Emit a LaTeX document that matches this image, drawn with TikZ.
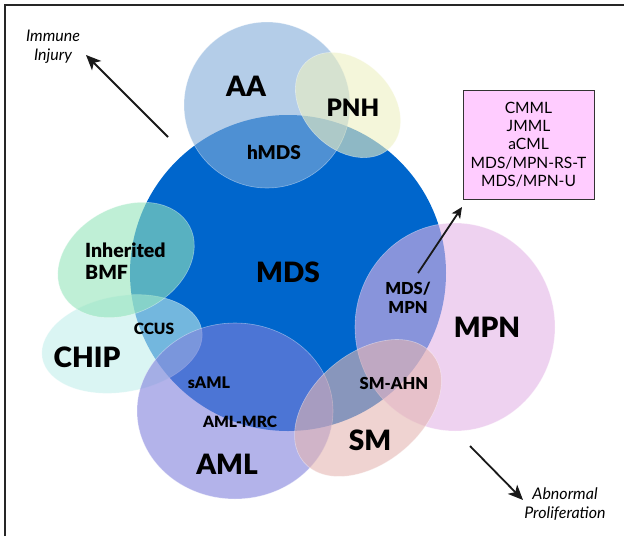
\documentclass[tikz,border=0pt]{standalone}
\usepackage{fontspec}
\setmainfont{Lato}[BoldFont={Lato Black}]
\usepackage{xcolor}
\usetikzlibrary{arrows.meta}

\definecolor{mdsblue}{HTML}{0066CC}
\definecolor{aablue}{HTML}{82ACD9}
\definecolor{pnhyellow}{HTML}{EDF0C1}
\definecolor{bmfgreen}{HTML}{94E4BB}
\definecolor{chipcyan}{HTML}{C1EEEB}
\definecolor{amlpurple}{HTML}{8080DC}
\definecolor{mpnpink}{HTML}{E3B4E6}
\definecolor{smrose}{HTML}{E4B6B2}
\definecolor{boxpink}{HTML}{FFCCFF}

\tikzset{
  venn/.style={fill=#1, fill opacity=0.6, draw=white, draw opacity=0.4, line width=0.6pt},
  lbl/.style 2 args={font=\bfseries\fontsize{#1}{#2}\selectfont, inner sep=0pt},
  note/.style={font=\itshape\fontsize{16}{19}\selectfont, align=center, inner sep=0pt},
  push/.style={line width=1.8pt, black!90, -{Stealth[length=15pt,width=13pt,inset=4pt]}}
}

\begin{document}
\begin{tikzpicture}[x=1pt, y=-1pt]
        \useasboundingbox (0,0) rectangle (624,536);

        % Frame
        \draw[line width=2.4pt, black!85] (5,536) -- (5,5) -- (624,5);

        % MDS
        \fill[mdsblue] (288,273) circle (158);

        % CHIP and inherited BMF
        \draw[venn=chipcyan, rotate around={10:(122,344)}] (122,344) ellipse [x radius=81, y radius=48];
        \draw[venn=bmfgreen, rotate around={28:(126,260)}] (126,260) ellipse [x radius=72, y radius=53];

        % AA and PNH
        \draw[venn=aablue] (267,105) circle (83);
        \draw[venn=pnhyellow, rotate around={-45:(348,105)}] (348,105) ellipse [x radius=60, y radius=44];

        % AML
        \draw[venn=amlpurple] (235,411) ellipse [x radius=98, y radius=88];

        % MPN and SM
        \draw[venn=mpnpink] (455,327) ellipse [x radius=100, y radius=104];
        \draw[venn=smrose, rotate around={40:(368,408)}] (368,408) ellipse [x radius=84, y radius=55];

        % Labels
        \node[lbl={28}{30}] (aa) at (246,86) {AA};
        \node[lbl={24}{26}] (pnh) at (353,108) {PNH};
        \node[lbl={19}{21}] (hmds) at (274,152) {hMDS};
        \node[lbl={28}{30}] (mds) at (288,272) {MDS};
        \node[lbl={19.5}{22}, align=left, anchor=west] (bmf) at (85,261) {Inherited\\BMF};
        \node[lbl={15.5}{18}] (ccus) at (154,329) {CCUS};
        \node[lbl={28}{30}] (chip) at (87,357) {CHIP};
        \node[lbl={16}{18}] (saml) at (209,383) {sAML};
        \node[lbl={15.5}{18}] (amlmrc) at (240,422) {AML-MRC};
        \node[lbl={28}{30}] (aml) at (227,464) {AML};
        \node[lbl={16.5}{19}, align=center] (mdsmpn) at (408,298) {MDS/\\MPN};
        \node[lbl={28}{30}] (mpn) at (487,327) {MPN};
        \node[lbl={16.5}{19}] (smahn) at (394,383) {SM-AHN};
        \node[lbl={28}{30}] (sm) at (370,440) {SM};

        % Overlap syndromes
        \node[draw=black!80, line width=0.8pt, fill=boxpink, minimum width=131pt, minimum height=109pt,
              align=center, font=\fontsize{15.6}{18.3}\selectfont] (box) at (528.5,144.5)
              {CMML\\JMML\\aCML\\MDS/MPN-RS-T\\MDS/MPN-U};

        % Directions
        \node[note] (immune) at (53,47) {Immune\\Injury};
        \node[note] (prolif) at (565,504) {Abnormal\\Proliferation};
        \coordinate (immtail) at (168,137);
        \coordinate (immtip) at (86,55);
        \coordinate (mixtail) at (418,273);
        \coordinate (mixtip) at (462,207);
        \coordinate (protail) at (470,446);
        \coordinate (protip) at (523,500);
        \draw[push] (immtail) -- (immtip);
        \draw[push, -{Stealth[length=11pt,width=10pt,inset=3pt]}] (mixtail) -- (mixtip);
        \draw[push] (protail) -- (protip);
    \end{tikzpicture}
\end{document}
